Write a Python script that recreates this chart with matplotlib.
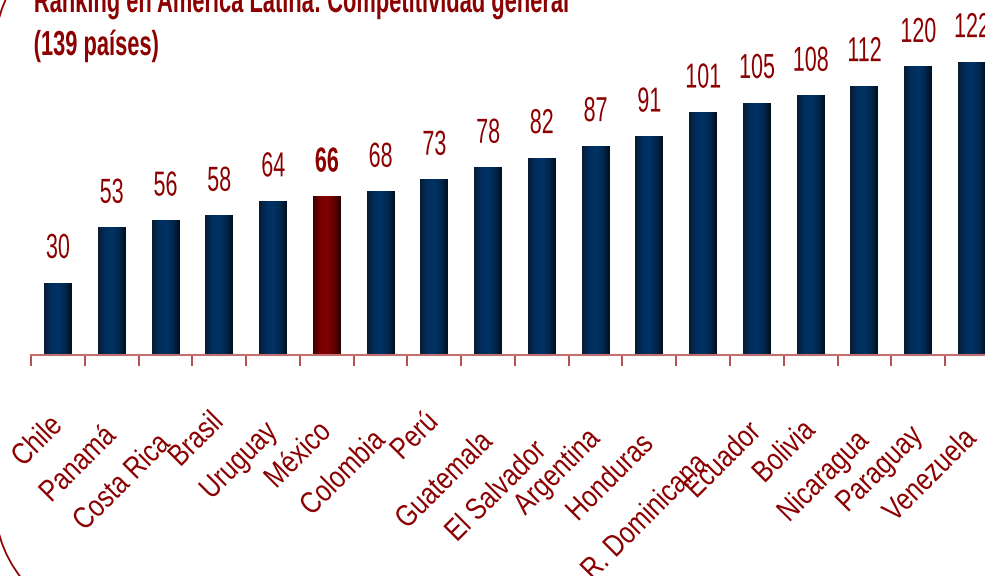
import numpy as np
import matplotlib as mpl
mpl.use("Agg")
import matplotlib.pyplot as plt
from matplotlib.colors import LinearSegmentedColormap
from matplotlib.patches import Arc
from matplotlib.patheffects import AbstractPathEffect
from matplotlib.transforms import Affine2D

countries = ["Chile", "Panamá", "Costa Rica", "Brasil", "Uruguay", "México",
             "Colombia", "Perú", "Guatemala", "El Salvador", "Argentina",
             "Honduras", "R. Dominicana", "Ecuador", "Bolivia", "Nicaragua",
             "Paraguay", "Venezuela"]
ranking = [30, 53, 56, 58, 64, 66, 68, 73, 78, 82, 87, 91, 101, 105, 108, 112, 120, 122]
highlight = "México"

# the category labels are staggered: how far (px) below the axis each one ends
label_drop = [62, 72, 80, 58, 68, 68, 77, 58, 78, 87, 75, 80, 100, 68, 67, 77, 72, 75]

red = "#8b0000"
plt.rcParams['font.family'] = ['Liberation Sans', 'DejaVu Sans']


class Squash(AbstractPathEffect):
    """draw text narrower (like Arial Narrow), keeping it anchored"""
    def __init__(self, sx, anchor=0.5):
        super().__init__()
        self.sx = sx
        self.anchor = anchor

    def draw_path(self, renderer, gc, tpath, affine, rgbFace=None):
        ext = tpath.get_extents()
        x0 = ext.x0 + self.anchor * ext.width
        t = Affine2D().translate(-x0, 0).scale(self.sx, 1).translate(x0, 0) + affine
        renderer.draw_path(gc, tpath, t, rgbFace)


blue_cm = LinearSegmentedColormap.from_list(
    "blue", ["#0a1a30", "#002d5c", "#003366", "#00284f", "#000f1f"])
red_cm = LinearSegmentedColormap.from_list(
    "red", ["#3a0000", "#780000", "#820000", "#620000", "#2a0000"])

fig = plt.figure(figsize=(9.85, 5.76), dpi=100)
ax = fig.add_axes([31.1 / 985, 221 / 576, 967.7 / 985, 312 / 576])

x = np.arange(len(countries))
bars = ax.bar(x, ranking, width=0.52, color="none", zorder=2)
grad = np.linspace(0, 1, 256).reshape(1, -1)
for b, name in zip(bars, countries):
    cm = red_cm if name == highlight else blue_cm
    ax.imshow(grad, cmap=cm, aspect="auto", zorder=2,
              extent=(b.get_x(), b.get_x() + b.get_width(), 0, b.get_height()))

for xi, v, name in zip(x, ranking, countries):
    ax.annotate(str(v), xy=(xi, v), xytext=(0, 13), textcoords="offset points",
                ha="center", va="bottom", fontsize=25, color=red,
                fontweight="bold" if name == highlight else "normal",
                path_effects=[Squash(0.62, 0.5)])

for xi, name, d in zip(x, countries, label_drop):
    ax.annotate(name, xy=(xi, 0), xytext=(-8, -(d - 6) * 0.72), textcoords="offset points",
                rotation=45, rotation_mode="anchor", ha="right", va="top",
                fontsize=22, color=red, annotation_clip=False,
                path_effects=[Squash(0.82, 1.0)])

ax.set_xlim(-0.5, len(countries) - 0.5)
ax.set_ylim(0, 130)
for s in ["top", "right", "left"]:
    ax.spines[s].set_visible(False)
ax.spines["bottom"].set_color("#c07070")
ax.spines["bottom"].set_linewidth(1.5)
ax.spines["bottom"].set_zorder(3)
ax.set_yticks([])
ax.set_xticks(x)
ax.set_xticklabels([])
ax.tick_params(axis="x", which="major", length=0)
ax.set_xticks(np.arange(-0.5, len(countries)), minor=True)
ax.tick_params(axis="x", which="minor", length=8, width=1.2, color="#a83030")

fig.text(33 / 985, 1 - 12 / 576, "Ranking en América Latina: Competitividad general",
         fontsize=25, fontweight="bold", color=red, va="baseline",
         path_effects=[Squash(0.63, 0.0)])
fig.text(33 / 985, 1 - 55 / 576, "(139 países)",
         fontsize=25, fontweight="bold", color=red, va="baseline",
         path_effects=[Squash(0.63, 0.0)])

# rounded frame corners of the slide
fig.add_artist(Arc((115 / 985, 73 / 576), 240 / 985, 240 / 576, theta1=180, theta2=270,
                   transform=fig.transFigure, color=red, lw=1.3))
fig.add_artist(Arc((115 / 985, 527 / 576), 240 / 985, 240 / 576, theta1=90, theta2=180,
                   transform=fig.transFigure, color=red, lw=1.3))

fig.savefig("out.png", dpi=100)
